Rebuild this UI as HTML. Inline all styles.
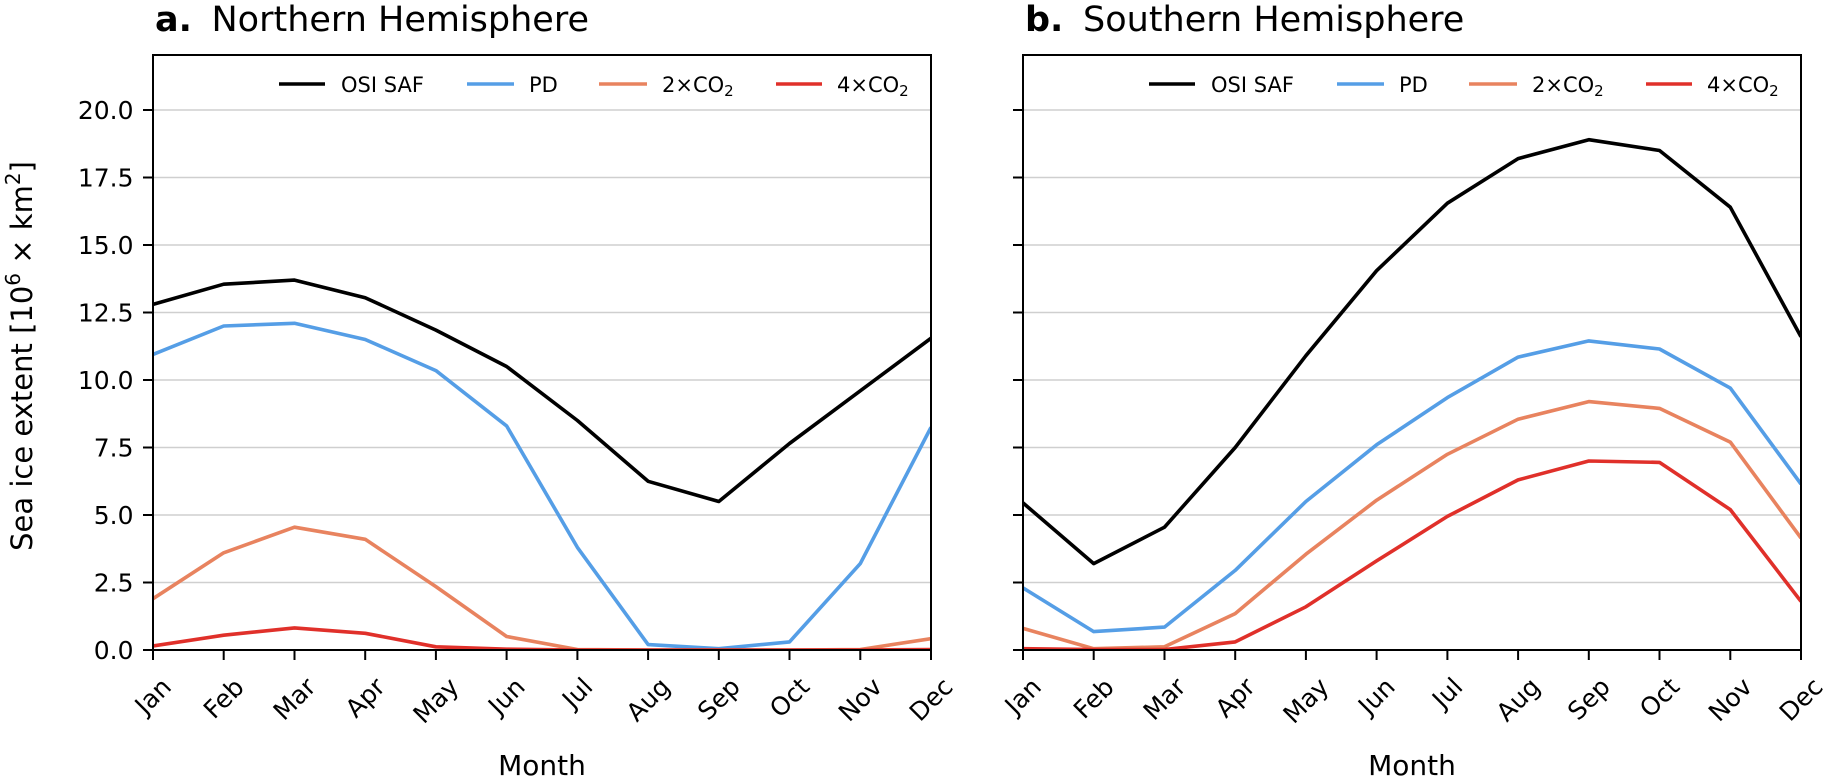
<!DOCTYPE html>
<html>
<head>
<meta charset="utf-8">
<style>
  html, body { margin:0; padding:0; background:#ffffff; }
  svg { display:block; }
  text { font-family: "DejaVu Sans", "Liberation Sans", sans-serif; fill:#000; }
</style>
</head>
<body>
<svg width="1826" height="780" viewBox="0 0 1826 780" xmlns="http://www.w3.org/2000/svg">
  <rect x="0" y="0" width="1826" height="780" fill="#ffffff"/>
  <defs>
    <clipPath id="clipL"><rect x="153" y="55" width="778" height="595"/></clipPath>
    <clipPath id="clipR"><rect x="1023" y="55" width="778" height="595"/></clipPath>
  </defs>

  <!-- ================= LEFT PANEL ================= -->
  <!-- gridlines -->
  <g stroke="#cfcfcf" stroke-width="1.5">
    <line x1="153" y1="582.5" x2="931" y2="582.5"/>
    <line x1="153" y1="515" x2="931" y2="515"/>
    <line x1="153" y1="447.5" x2="931" y2="447.5"/>
    <line x1="153" y1="380" x2="931" y2="380"/>
    <line x1="153" y1="312.5" x2="931" y2="312.5"/>
    <line x1="153" y1="245" x2="931" y2="245"/>
    <line x1="153" y1="177.5" x2="931" y2="177.5"/>
    <line x1="153" y1="110" x2="931" y2="110"/>
  </g>
  <!-- data -->
  <g clip-path="url(#clipL)" fill="none" stroke-width="3.6" stroke-linejoin="round" stroke-linecap="butt">
    <polyline stroke="#000000" points="153,304.4 223.7,284.2 294.5,280.1 365.2,297.7 435.9,330.1 506.6,366.5 577.4,420.5 648.1,481.3 718.8,501.5 789.5,443.5 860.3,390.8 931,338.2"/>
    <polyline stroke="#559ee6" points="153,354.4 223.7,326 294.5,323.3 365.2,339.5 435.9,370.6 506.6,425.9 577.4,547.4 648.1,644.6 718.8,648.7 789.5,641.9 860.3,563.6 931,427.3"/>
    <polyline stroke="#e8835f" points="153,598.7 223.7,552.8 294.5,527.2 365.2,539.3 435.9,586.6 506.6,636.5 577.4,649.5 648.1,650 718.8,650 789.5,650 860.3,649.5 931,638.7"/>
    <polyline stroke="#e0302a" points="153,646 223.7,635.2 294.5,627.9 365.2,633.3 435.9,646.8 506.6,649.2 577.4,650 648.1,650 718.8,650 789.5,650 860.3,650 931,649.5"/>
  </g>
  <!-- frame -->
  <rect x="153" y="55" width="778" height="595" fill="none" stroke="#000" stroke-width="2"/>
  <!-- y ticks -->
  <g stroke="#000" stroke-width="2">
    <line x1="143" y1="650" x2="153" y2="650"/>
    <line x1="143" y1="582.5" x2="153" y2="582.5"/>
    <line x1="143" y1="515" x2="153" y2="515"/>
    <line x1="143" y1="447.5" x2="153" y2="447.5"/>
    <line x1="143" y1="380" x2="153" y2="380"/>
    <line x1="143" y1="312.5" x2="153" y2="312.5"/>
    <line x1="143" y1="245" x2="153" y2="245"/>
    <line x1="143" y1="177.5" x2="153" y2="177.5"/>
    <line x1="143" y1="110" x2="153" y2="110"/>
  </g>
  <g font-size="25" text-anchor="end">
    <text x="133.5" y="659">0.0</text>
    <text x="133.5" y="591.5">2.5</text>
    <text x="133.5" y="524">5.0</text>
    <text x="133.5" y="456.5">7.5</text>
    <text x="133.5" y="389">10.0</text>
    <text x="133.5" y="321.5">12.5</text>
    <text x="133.5" y="254">15.0</text>
    <text x="133.5" y="186.5">17.5</text>
    <text x="133.5" y="119">20.0</text>
  </g>
  <!-- x ticks -->
  <g stroke="#000" stroke-width="2">
    <line x1="153" y1="650" x2="153" y2="660"/>
    <line x1="223.7" y1="650" x2="223.7" y2="660"/>
    <line x1="294.5" y1="650" x2="294.5" y2="660"/>
    <line x1="365.2" y1="650" x2="365.2" y2="660"/>
    <line x1="435.9" y1="650" x2="435.9" y2="660"/>
    <line x1="506.6" y1="650" x2="506.6" y2="660"/>
    <line x1="577.4" y1="650" x2="577.4" y2="660"/>
    <line x1="648.1" y1="650" x2="648.1" y2="660"/>
    <line x1="718.8" y1="650" x2="718.8" y2="660"/>
    <line x1="789.5" y1="650" x2="789.5" y2="660"/>
    <line x1="860.3" y1="650" x2="860.3" y2="660"/>
    <line x1="931" y1="650" x2="931" y2="660"/>
  </g>
  <g font-size="25" text-anchor="middle">
    <text transform="translate(153,695.9) rotate(-45)" x="0" y="8.6">Jan</text>
    <text transform="translate(223.7,698.4) rotate(-45)" x="0" y="8.6">Feb</text>
    <text transform="translate(294.5,698.9) rotate(-45)" x="0" y="8.6">Mar</text>
    <text transform="translate(365.2,697.6) rotate(-45)" x="0" y="8.6">Apr</text>
    <text transform="translate(435.9,700.5) rotate(-45)" x="0" y="8.6">May</text>
    <text transform="translate(506.6,696.1) rotate(-45)" x="0" y="8.6">Jun</text>
    <text transform="translate(577.4,692.9) rotate(-45)" x="0" y="8.6">Jul</text>
    <text transform="translate(648.1,699.5) rotate(-45)" x="0" y="8.6">Aug</text>
    <text transform="translate(718.8,698.9) rotate(-45)" x="0" y="8.6">Sep</text>
    <text transform="translate(789.5,697.5) rotate(-45)" x="0" y="8.6">Oct</text>
    <text transform="translate(860.3,699.5) rotate(-45)" x="0" y="8.6">Nov</text>
    <text transform="translate(931,699.4) rotate(-45)" x="0" y="8.6">Dec</text>
  </g>
  <!-- x label -->
  <text x="542" y="775" font-size="28" text-anchor="middle">Month</text>
  <!-- y label -->
  <text transform="translate(32,356) rotate(-90)" x="0" y="0" font-size="29" text-anchor="middle">Sea ice extent [10<tspan font-size="20" dy="-12">6</tspan><tspan dy="12"> × km</tspan><tspan font-size="20" dy="-12">2</tspan><tspan dy="12">]</tspan></text>
  <!-- title -->
  <text x="155" y="31" font-size="35" font-weight="bold">a.</text>
  <text x="211.5" y="31" font-size="35">Northern Hemisphere</text>
  <!-- legend -->
  <g stroke-width="3.6">
    <line x1="279" y1="84" x2="325" y2="84" stroke="#000000"/>
    <line x1="467" y1="84" x2="514" y2="84" stroke="#559ee6"/>
    <line x1="599" y1="84" x2="647" y2="84" stroke="#e8835f"/>
    <line x1="776" y1="84" x2="822" y2="84" stroke="#e0302a"/>
  </g>
  <g font-size="21">
    <text x="341" y="92">OSI SAF</text>
    <text x="529" y="92">PD</text>
    <text x="662" y="92">2×CO<tspan font-size="15" dy="4">2</tspan></text>
    <text x="837" y="92">4×CO<tspan font-size="15" dy="4">2</tspan></text>
  </g>

  <!-- ================= RIGHT PANEL ================= -->
  <g stroke="#cfcfcf" stroke-width="1.5">
    <line x1="1023" y1="582.5" x2="1801" y2="582.5"/>
    <line x1="1023" y1="515" x2="1801" y2="515"/>
    <line x1="1023" y1="447.5" x2="1801" y2="447.5"/>
    <line x1="1023" y1="380" x2="1801" y2="380"/>
    <line x1="1023" y1="312.5" x2="1801" y2="312.5"/>
    <line x1="1023" y1="245" x2="1801" y2="245"/>
    <line x1="1023" y1="177.5" x2="1801" y2="177.5"/>
    <line x1="1023" y1="110" x2="1801" y2="110"/>
  </g>
  <g clip-path="url(#clipR)" fill="none" stroke-width="3.6" stroke-linejoin="round" stroke-linecap="butt">
    <polyline stroke="#000000" points="1023,502.9 1093.7,563.6 1164.5,527.2 1235.2,447.5 1305.9,355.7 1376.6,270.7 1447.4,203.2 1518.1,158.6 1588.8,139.7 1659.5,150.5 1730.3,207.2 1801,336.8"/>
    <polyline stroke="#559ee6" points="1023,587.9 1093.7,631.6 1164.5,627.1 1235.2,570.4 1305.9,501.5 1376.6,444.8 1447.4,397.6 1518.1,357.1 1588.8,340.9 1659.5,349 1730.3,388.1 1801,484"/>
    <polyline stroke="#e8835f" points="1023,628.4 1093.7,648.7 1164.5,646.8 1235.2,613.6 1305.9,554.2 1376.6,500.2 1447.4,454.3 1518.1,419.2 1588.8,401.6 1659.5,408.4 1730.3,442.1 1801,538"/>
    <polyline stroke="#e0302a" points="1023,648.7 1093.7,649.5 1164.5,649.5 1235.2,641.9 1305.9,606.8 1376.6,560.9 1447.4,516.4 1518.1,479.9 1588.8,461 1659.5,462.4 1730.3,509.6 1801,601.4"/>
  </g>
  <rect x="1023" y="55" width="778" height="595" fill="none" stroke="#000" stroke-width="2"/>
  <g stroke="#000" stroke-width="2">
    <line x1="1013" y1="650" x2="1023" y2="650"/>
    <line x1="1013" y1="582.5" x2="1023" y2="582.5"/>
    <line x1="1013" y1="515" x2="1023" y2="515"/>
    <line x1="1013" y1="447.5" x2="1023" y2="447.5"/>
    <line x1="1013" y1="380" x2="1023" y2="380"/>
    <line x1="1013" y1="312.5" x2="1023" y2="312.5"/>
    <line x1="1013" y1="245" x2="1023" y2="245"/>
    <line x1="1013" y1="177.5" x2="1023" y2="177.5"/>
    <line x1="1013" y1="110" x2="1023" y2="110"/>
  </g>
  <g stroke="#000" stroke-width="2">
    <line x1="1023" y1="650" x2="1023" y2="660"/>
    <line x1="1093.7" y1="650" x2="1093.7" y2="660"/>
    <line x1="1164.5" y1="650" x2="1164.5" y2="660"/>
    <line x1="1235.2" y1="650" x2="1235.2" y2="660"/>
    <line x1="1305.9" y1="650" x2="1305.9" y2="660"/>
    <line x1="1376.6" y1="650" x2="1376.6" y2="660"/>
    <line x1="1447.4" y1="650" x2="1447.4" y2="660"/>
    <line x1="1518.1" y1="650" x2="1518.1" y2="660"/>
    <line x1="1588.8" y1="650" x2="1588.8" y2="660"/>
    <line x1="1659.5" y1="650" x2="1659.5" y2="660"/>
    <line x1="1730.3" y1="650" x2="1730.3" y2="660"/>
    <line x1="1801" y1="650" x2="1801" y2="660"/>
  </g>
  <g font-size="25" text-anchor="middle">
    <text transform="translate(1023,695.9) rotate(-45)" x="0" y="8.6">Jan</text>
    <text transform="translate(1093.7,698.4) rotate(-45)" x="0" y="8.6">Feb</text>
    <text transform="translate(1164.5,698.9) rotate(-45)" x="0" y="8.6">Mar</text>
    <text transform="translate(1235.2,697.6) rotate(-45)" x="0" y="8.6">Apr</text>
    <text transform="translate(1305.9,700.5) rotate(-45)" x="0" y="8.6">May</text>
    <text transform="translate(1376.6,696.1) rotate(-45)" x="0" y="8.6">Jun</text>
    <text transform="translate(1447.4,692.9) rotate(-45)" x="0" y="8.6">Jul</text>
    <text transform="translate(1518.1,699.5) rotate(-45)" x="0" y="8.6">Aug</text>
    <text transform="translate(1588.8,698.9) rotate(-45)" x="0" y="8.6">Sep</text>
    <text transform="translate(1659.5,697.5) rotate(-45)" x="0" y="8.6">Oct</text>
    <text transform="translate(1730.3,699.5) rotate(-45)" x="0" y="8.6">Nov</text>
    <text transform="translate(1801,699.4) rotate(-45)" x="0" y="8.6">Dec</text>
  </g>
  <text x="1412" y="775" font-size="28" text-anchor="middle">Month</text>
  <text x="1025" y="31" font-size="35" font-weight="bold">b.</text>
  <text x="1083" y="31" font-size="35">Southern Hemisphere</text>
  <g stroke-width="3.6">
    <line x1="1149" y1="84" x2="1195" y2="84" stroke="#000000"/>
    <line x1="1337" y1="84" x2="1384" y2="84" stroke="#559ee6"/>
    <line x1="1469" y1="84" x2="1517" y2="84" stroke="#e8835f"/>
    <line x1="1646" y1="84" x2="1692" y2="84" stroke="#e0302a"/>
  </g>
  <g font-size="21">
    <text x="1211" y="92">OSI SAF</text>
    <text x="1399" y="92">PD</text>
    <text x="1532" y="92">2×CO<tspan font-size="15" dy="4">2</tspan></text>
    <text x="1707" y="92">4×CO<tspan font-size="15" dy="4">2</tspan></text>
  </g>
</svg>
</body>
</html>
